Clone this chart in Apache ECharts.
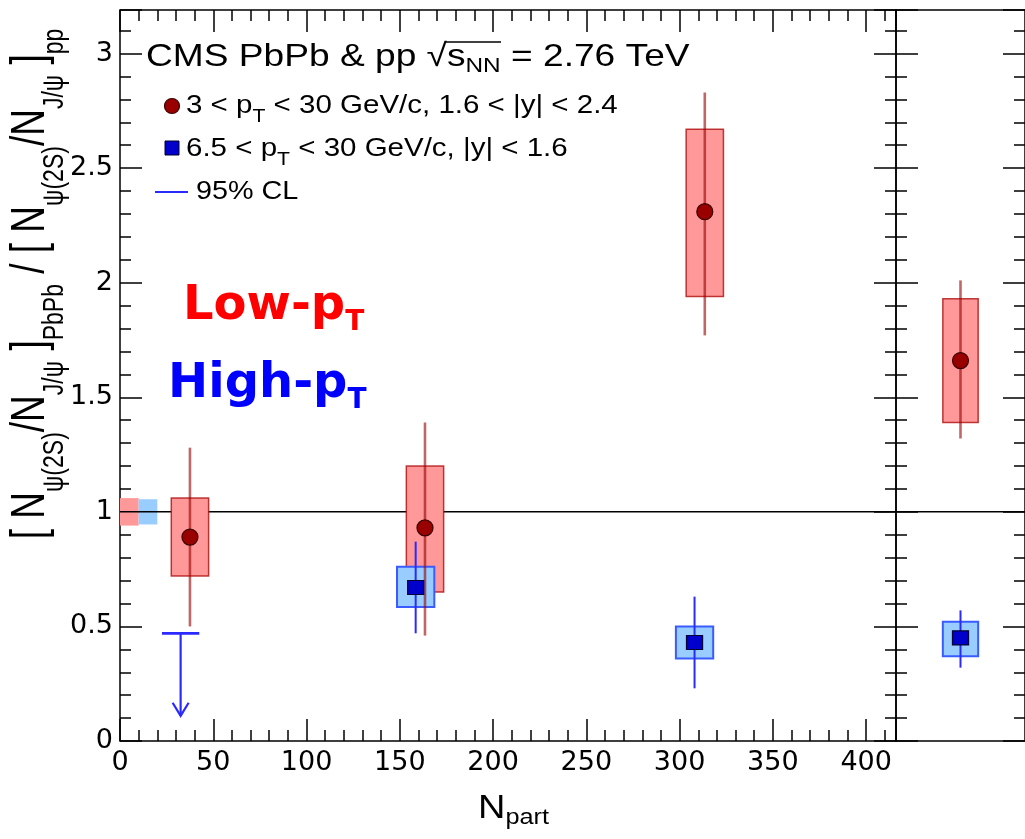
<!DOCTYPE html>
<html>
<head>
<meta charset="utf-8">
<script src="https://cdn.jsdelivr.net/npm/echarts@6/dist/echarts.min.js"></script>
<style>html,body{margin:0;padding:0;background:#fff}#c{width:1025px;height:839px}</style>
</head>
<body>
<div id="c"></div>
<script>
// ---------------- data ----------------
// Low-pT (3 < pT < 30 GeV/c, 1.6 < |y| < 2.4), centrality bins
const lowNpart   = [37.5, 163.5, 313.5];
const lowRatio   = [0.89, 0.93, 2.31];
const lowStatLo  = [0.50, 0.46, 1.77];
const lowStatHi  = [1.28, 1.39, 2.83];
const lowSystLo  = [0.72, 0.65, 1.94];
const lowSystHi  = [1.06, 1.20, 2.67];

// High-pT (6.5 < pT < 30 GeV/c, |y| < 1.6), centrality bins
const highNpart  = [158.5, 308];
const highRatio  = [0.67, 0.43];
const highStatLo = [0.47, 0.23];
const highStatHi = [0.87, 0.63];
const highSystLo = [0.585, 0.36];
const highSystHi = [0.76, 0.50];

// High-pT 95% CL upper limit (most peripheral bin)
const highLimitNpart = [32.5];
const highLimitValue = [0.47];
const highLimitArrowTo = [0.11];

// Centrality-integrated values (right panel)
const intPos        = [0.5];
const lowIntRatio   = [1.66];
const lowIntStatLo  = [1.32];
const lowIntStatHi  = [2.01];
const lowIntSystLo  = [1.39];
const lowIntSystHi  = [1.93];
const highIntRatio  = [0.45];
const highIntStatLo = [0.32];
const highIntStatHi = [0.57];
const highIntSystLo = [0.37];
const highIntSystHi = [0.52];

// pp reference (global) uncertainties around 1
const ppRefLow  = [0.94, 1.06];
const ppRefHigh = [0.945, 1.055];
const ppRefLowX  = [0, 10];
const ppRefHighX = [10, 20];

// axes
const xTickLabels = [0, 50, 100, 150, 200, 250, 300, 350, 400];
const yTickLabels = ['0', '0.5', '1', '1.5', '2', '2.5', '3'];
const xMax = 416, yMax = 3.19;

// ---------------- styles ----------------
const RED_FILL = '#ff9999', RED_STROKE = 'rgba(170,0,0,0.75)', RED_LINE = 'rgba(150,0,0,0.6)';
const RED_MARK = '#990000';
const BLUE_FILL = '#99ccff', BLUE_STROKE = '#3a5cff', BLUE_LINE = '#2a2aff', BLUE_MARK = '#0000cc';

const chart = echarts.init(document.getElementById('c'), null, {renderer: 'canvas'});

function zip(...arrs) { return arrs[0].map((_, i) => arrs.map(a => a[i])); }

function boxSeries(xi, yi, data, hw, fill, stroke, lw, z) {
  return {
    type: 'custom', xAxisIndex: xi, yAxisIndex: yi, z: z, silent: true, animation: false,
    data: data,
    renderItem: function (params, api) {
      const x = api.value(0), lo = api.value(1), hi = api.value(2);
      const p1 = api.coord([x - hw, hi]);
      const p2 = api.coord([x + hw, lo]);
      return {type: 'rect', shape: {x: p1[0], y: p1[1], width: p2[0] - p1[0], height: p2[1] - p1[1]},
              style: {fill: fill, stroke: stroke, lineWidth: lw}};
    }
  };
}
function rangeBoxSeries(xi, yi, data, fill, z) {
  return {
    type: 'custom', xAxisIndex: xi, yAxisIndex: yi, z: z, silent: true, animation: false,
    data: data,
    renderItem: function (params, api) {
      const p1 = api.coord([api.value(0), api.value(3)]);
      const p2 = api.coord([api.value(1), api.value(2)]);
      return {type: 'rect', shape: {x: p1[0], y: p1[1], width: p2[0] - p1[0], height: p2[1] - p1[1]},
              style: {fill: fill}};
    }
  };
}
function errSeries(xi, yi, data, color, lw, z) {
  return {
    type: 'custom', xAxisIndex: xi, yAxisIndex: yi, z: z, silent: true, animation: false,
    data: data,
    renderItem: function (params, api) {
      const a = api.coord([api.value(0), api.value(1)]);
      const b = api.coord([api.value(0), api.value(2)]);
      return {type: 'line', shape: {x1: a[0], y1: a[1], x2: b[0], y2: b[1]},
              style: {stroke: color, lineWidth: lw}};
    }
  };
}
function markSeries(xi, yi, data, symbol, size, color, border, z) {
  return {
    type: 'scatter', xAxisIndex: xi, yAxisIndex: yi, z: z, silent: true, animation: false,
    symbol: symbol, symbolSize: size, data: data,
    itemStyle: {color: color, borderColor: border, borderWidth: 1.2, opacity: 1}
  };
}

const limitSeries = {
  type: 'custom', xAxisIndex: 0, yAxisIndex: 0, z: 6, silent: true, animation: false,
  data: zip(highLimitNpart, highLimitValue, highLimitArrowTo),
  renderItem: function (params, api) {
    const x = api.value(0), top = api.coord([x, api.value(1)]), tip = api.coord([x, api.value(2)]);
    const l = api.coord([x - 10, api.value(1)]), r = api.coord([x + 10, api.value(1)]);
    const st = {stroke: BLUE_LINE, lineWidth: 2.2};
    return {type: 'group', children: [
      {type: 'line', shape: {x1: l[0], y1: l[1], x2: r[0], y2: r[1]}, style: {stroke: BLUE_LINE, lineWidth: 2.8}},
      {type: 'line', shape: {x1: top[0], y1: top[1], x2: tip[0], y2: tip[1]}, style: st},
      {type: 'polyline', shape: {points: [[tip[0] - 8, tip[1] - 13], [tip[0], tip[1]], [tip[0] + 8, tip[1] - 13]]}, style: Object.assign({fill: 'none'}, st)}
    ]};
  }
};

function ax(o, len) {
  const tickLen = len === undefined ? 22 : len;
  return Object.assign({
    type: 'value', axisLine: {show: false, onZero: false}, splitLine: {show: false},
    axisTick: tickLen > 0 ? {show: true, inside: true, length: tickLen, lineStyle: {color: '#000', width: 1.5}} : {show: false},
    axisLabel: {show: false}
  }, o);
}
const lblX = {show: true, fontFamily: 'DejaVu Sans', fontSize: 27, color: '#000', margin: 8,
  formatter: v => (xTickLabels.some(t => Math.abs(t - v) < 1e-6) ? String(Math.round(v)) : '')};
const lblY = {show: true, fontFamily: 'DejaVu Sans', fontSize: 27, color: '#000', margin: 7,
  formatter: v => { const s = yTickLabels.find(t => Math.abs(parseFloat(t) - v) < 1e-6); return s === undefined ? '' : s; }};

const xAxes = [
  ax({gridIndex: 0, position: 'bottom', min: 0, max: xMax, interval: 50, axisLabel: lblX}, 22),
  ax({gridIndex: 0, position: 'bottom', min: 0, max: xMax, interval: 10}, 11),
  ax({gridIndex: 0, position: 'top', min: 0, max: xMax, interval: 50}, 22),
  ax({gridIndex: 0, position: 'top', min: 0, max: xMax, interval: 10}, 11),
  ax({gridIndex: 1, position: 'bottom', min: 0, max: 1}, 0)
];
const yAxes = [
  ax({gridIndex: 0, position: 'left', min: 0, max: yMax, interval: 0.5, axisLabel: lblY}, 22),
  ax({gridIndex: 0, position: 'left', min: 0, max: yMax, interval: 0.1}, 11),
  ax({gridIndex: 0, position: 'right', min: 0, max: yMax, interval: 0.5}, 22),
  ax({gridIndex: 0, position: 'right', min: 0, max: yMax, interval: 0.1}, 11),
  ax({gridIndex: 1, position: 'left', min: 0, max: yMax, interval: 0.5}, 22),
  ax({gridIndex: 1, position: 'left', min: 0, max: yMax, interval: 0.1}, 11),
  ax({gridIndex: 1, position: 'right', min: 0, max: yMax, interval: 0.5}, 22),
  ax({gridIndex: 1, position: 'right', min: 0, max: yMax, interval: 0.1}, 11)
];

const HW = 10;          // syst box half width in Npart units
const HW_INT = 0.137;   // syst box half width in right panel units

const series = [
  // pp reference boxes
  rangeBoxSeries(0, 0, [[ppRefLowX[0], ppRefLowX[1], ppRefLow[0], ppRefLow[1]]], RED_FILL, 1),
  rangeBoxSeries(0, 0, [[ppRefHighX[0], ppRefHighX[1], ppRefHigh[0], ppRefHigh[1]]], BLUE_FILL, 1),
  // unity lines
  {type: 'line', xAxisIndex: 0, yAxisIndex: 0, z: 2, silent: true, animation: false, showSymbol: false,
   data: [[0, 1], [xMax, 1]], lineStyle: {color: '#000', width: 1.5}},
  {type: 'line', xAxisIndex: 4, yAxisIndex: 4, z: 2, silent: true, animation: false, showSymbol: false,
   data: [[0, 1], [1, 1]], lineStyle: {color: '#000', width: 1.5}},
  // syst boxes
  boxSeries(0, 0, zip(lowNpart, lowSystLo, lowSystHi), HW, RED_FILL, RED_STROKE, 1.5, 3),
  boxSeries(4, 4, zip(intPos, lowIntSystLo, lowIntSystHi), HW_INT, RED_FILL, RED_STROKE, 1.5, 3),
  boxSeries(0, 0, zip(highNpart, highSystLo, highSystHi), HW, BLUE_FILL, BLUE_STROKE, 2, 3),
  boxSeries(4, 4, zip(intPos, highIntSystLo, highIntSystHi), HW_INT, BLUE_FILL, BLUE_STROKE, 2, 3),
  // stat error bars
  errSeries(0, 0, zip(lowNpart, lowStatLo, lowStatHi), RED_LINE, 2.6, 4),
  errSeries(4, 4, zip(intPos, lowIntStatLo, lowIntStatHi), RED_LINE, 2.6, 4),
  errSeries(0, 0, zip(highNpart, highStatLo, highStatHi), BLUE_LINE, 2, 4),
  errSeries(4, 4, zip(intPos, highIntStatLo, highIntStatHi), BLUE_LINE, 2, 4),
  // markers
  markSeries(0, 0, zip(lowNpart, lowRatio), 'circle', 16, RED_MARK, '#3a0000', 5),
  markSeries(4, 4, zip(intPos, lowIntRatio), 'circle', 16, RED_MARK, '#3a0000', 5),
  markSeries(0, 0, zip(highNpart, highRatio), 'rect', [16, 14], BLUE_MARK, '#000033', 5),
  markSeries(4, 4, zip(intPos, highIntRatio), 'rect', [16, 14], BLUE_MARK, '#000033', 5),
  limitSeries
];

const FF = 'Liberation Sans';
const graphic = [
  // header
  {type: 'text', x: 146, y: 57, scaleX: 1.16, z: 10, silent: true,
   style: {text: '{m|CMS PbPb & pp √s}{s|NN}{m| = 2.76 TeV}', verticalAlign: 'middle', align: 'left',
     rich: {m: {fontFamily: FF, fontSize: 32, lineHeight: 40, fill: '#000'},
            s: {fontFamily: FF, fontSize: 21, lineHeight: 4, verticalAlign: 'bottom', fill: '#000'}}}},
  {type: 'line', shape: {x1: 446, y1: 42, x2: 501, y2: 42}, style: {stroke: '#000', lineWidth: 1.3}, silent: true, z: 10},
  // legend
  {type: 'circle', shape: {cx: 172, cy: 106, r: 7.5}, style: {fill: RED_MARK, stroke: '#3a0000', lineWidth: 1.2}, silent: true, z: 10},
  {type: 'rect', shape: {x: 165, y: 141, width: 14, height: 14}, style: {fill: BLUE_MARK, stroke: '#000033', lineWidth: 1}, silent: true, z: 10},
  {type: 'line', shape: {x1: 155, y1: 192, x2: 188, y2: 192}, style: {stroke: BLUE_LINE, lineWidth: 2}, silent: true, z: 10},
  {type: 'text', x: 186, y: 106, scaleX: 1.18, z: 10, silent: true,
   style: {text: '{m|3 < p}{s|T}{m| < 30 GeV/c, 1.6 < |y| < 2.4}', verticalAlign: 'middle', align: 'left',
     rich: {m: {fontFamily: FF, fontSize: 25, lineHeight: 40, fill: '#000'},
            s: {fontFamily: FF, fontSize: 18, lineHeight: 4, verticalAlign: 'bottom', fill: '#000'}}}},
  {type: 'text', x: 186, y: 149, scaleX: 1.18, z: 10, silent: true,
   style: {text: '{m|6.5 < p}{s|T}{m| < 30 GeV/c, |y| < 1.6}', verticalAlign: 'middle', align: 'left',
     rich: {m: {fontFamily: FF, fontSize: 25, lineHeight: 40, fill: '#000'},
            s: {fontFamily: FF, fontSize: 18, lineHeight: 4, verticalAlign: 'bottom', fill: '#000'}}}},
  {type: 'text', x: 196, y: 192, scaleX: 1.15, z: 10, silent: true,
   style: {text: '95% CL', verticalAlign: 'middle', align: 'left', fontFamily: FF, fontSize: 25, fill: '#000'}},
  // Low-pT / High-pT annotations
  {type: 'text', x: 183, y: 307, z: 10, silent: true,
   style: {text: '{m|Low-p}{s|T}', verticalAlign: 'middle', align: 'left',
     rich: {m: {fontFamily: 'DejaVu Sans', fontWeight: 'bold', fontSize: 48, lineHeight: 60, fill: '#ff0000'},
            s: {fontFamily: 'DejaVu Sans', fontWeight: 'bold', fontSize: 28, lineHeight: 16, verticalAlign: 'bottom', fill: '#ff0000'}}}},
  {type: 'text', x: 168, y: 385, z: 10, silent: true,
   style: {text: '{m|High-p}{s|T}', verticalAlign: 'middle', align: 'left',
     rich: {m: {fontFamily: 'DejaVu Sans', fontWeight: 'bold', fontSize: 48, lineHeight: 60, fill: '#0000ff'},
            s: {fontFamily: 'DejaVu Sans', fontWeight: 'bold', fontSize: 28, lineHeight: 16, verticalAlign: 'bottom', fill: '#0000ff'}}}},
  // x axis title
  {type: 'text', x: 478, y: 809, scaleX: 1.15, z: 10, silent: true,
   style: {text: '{m|N}{s|part}', verticalAlign: 'middle', align: 'left',
     rich: {m: {fontFamily: FF, fontSize: 33, lineHeight: 40, fill: '#000'},
            s: {fontFamily: FF, fontSize: 22, lineHeight: 14, verticalAlign: 'bottom', fill: '#000'}}}},
  // y axis title
  {type: 'text', x: 31, y: 284, rotation: Math.PI / 2, scaleY: 1.3, z: 10, silent: true,
   style: {text: '{m|[ N}{s|ψ(2S)}{m|/N}{s|J/ψ}{m| ]}{s|PbPb}{m| / [ N}{s|ψ(2S)}{m|/N}{s|J/ψ}{m| ]}{s|pp}',
     verticalAlign: 'middle', align: 'center',
     rich: {m: {fontFamily: FF, fontSize: 37, lineHeight: 60, fill: '#000'},
            s: {fontFamily: FF, fontSize: 23, lineHeight: 14, verticalAlign: 'bottom', fill: '#000'}}}}
];

chart.setOption({
  animation: false,
  backgroundColor: '#fff',
  grid: [
    {left: 120, top: 10, width: 776, height: 731, show: true, borderColor: '#000', borderWidth: 1.5, backgroundColor: 'rgba(0,0,0,0)'},
    {left: 896, top: 10, width: 136, height: 731, show: true, borderColor: '#000', borderWidth: 1.5, backgroundColor: 'rgba(0,0,0,0)'}
  ],
  xAxis: xAxes,
  yAxis: yAxes,
  series: series,
  graphic: graphic
});
</script>
</body>
</html>
